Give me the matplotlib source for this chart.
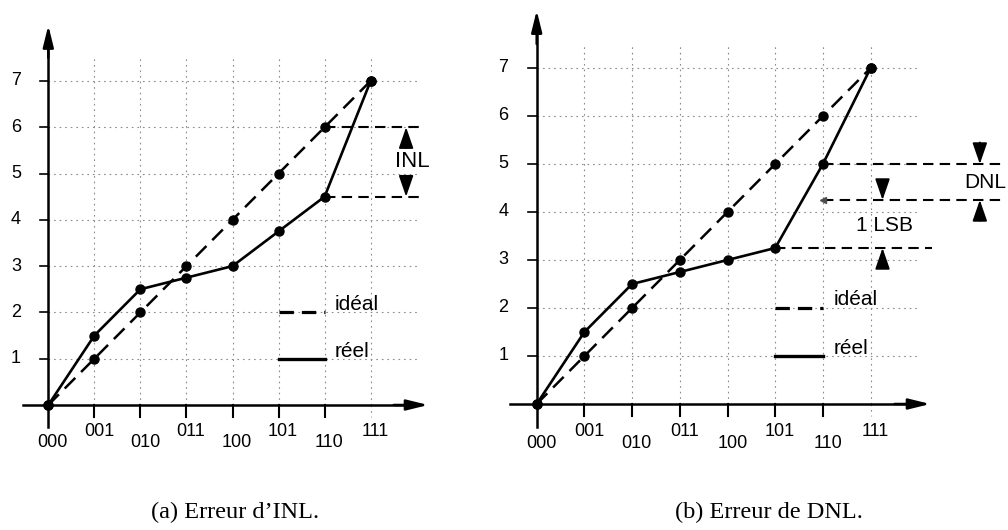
import matplotlib
matplotlib.use("Agg")
import matplotlib.pyplot as plt

# ---- data ----
codes = ['000', '001', '010', '011', '100', '101', '110', '111']
ideal = [0, 1, 2, 3, 4, 5, 6, 7]
reel_inl = [0, 1.5, 2.5, 2.75, 3.0, 3.75, 4.5, 7]
reel_dnl = [0, 1.5, 2.5, 2.75, 3.0, 3.25, 5.0, 7]
yticks = [1, 2, 3, 4, 5, 6, 7]
captions = ["(a) Erreur d\u2019INL.", "(b) Erreur de DNL."]
legend_labels = ["idéal", "réel"]

W, H = 1008, 530
fig = plt.figure(figsize=(W / 100, H / 100), dpi=100)

SANS = ['Liberation Sans', 'DejaVu Sans']
SERIF = ['Liberation Serif', 'DejaVu Serif']


def make_axes(x0, sx, y0, sy, xlim, ylim):
    left = x0 + xlim[0] * sx
    right = x0 + xlim[1] * sx
    bottom = y0 - ylim[0] * sy
    top = y0 - ylim[1] * sy
    ax = fig.add_axes([left / W, (H - bottom) / H, (right - left) / W, (bottom - top) / H])
    ax.set_xlim(*xlim)
    ax.set_ylim(*ylim)
    ax.axis('off')
    return ax


def arrow(ax, x, y_from, y_to, lw=1.3, hl=1.3, hw=0.45):
    ax.annotate('', xy=(x, y_to), xytext=(x, y_from),
                arrowprops=dict(arrowstyle=f'-|>,head_length={hl},head_width={hw}',
                                lw=lw, color='black', shrinkA=0, shrinkB=0,
                                mutation_scale=10),
                annotation_clip=False)


def draw_panel(ax, reel, xgrid_end, ygrid_end):
    n = len(codes)
    xs = list(range(n))
    gkw = dict(color='0.55', lw=0.8, ls=(0, (1.5, 3.5)), clip_on=False, zorder=1)
    # grid
    for y in yticks:
        ax.plot([0, xgrid_end], [y, y], **gkw)
    for x in xs[1:]:
        ax.plot([x, x], [0, ygrid_end], **gkw)
    ax.plot([xs[-1], xs[-1]], [0, -0.25], **gkw)
    # axes with arrows
    ax.plot([-0.55, 8.0], [0, 0], color='black', lw=1.8, clip_on=False, zorder=3)
    ax.annotate('', xy=(8.25, 0), xytext=(7.5, 0),
                arrowprops=dict(arrowstyle='-|>,head_length=1.3,head_width=0.32',
                                lw=1.8, color='black', shrinkA=0, shrinkB=0,
                                mutation_scale=10), annotation_clip=False)
    ax.plot([0, 0], [-0.47, 7.9], color='black', lw=1.8, clip_on=False, zorder=3)
    ax.annotate('', xy=(0, 8.2), xytext=(0, 7.5),
                arrowprops=dict(arrowstyle='-|>,head_length=1.3,head_width=0.32',
                                lw=1.8, color='black', shrinkA=0, shrinkB=0,
                                mutation_scale=10), annotation_clip=False)
    # ticks
    for y in yticks:
        ax.plot([-0.18, 0], [y, y], color='black', lw=1.2, clip_on=False)
        ax.text(-0.7, y, str(y), ha='center', va='center', fontsize=13, family=SANS)
    for x in xs[1:-1]:
        ax.plot([x, x], [0, -0.25], color='black', lw=1.5, clip_on=False)
    for i, c in enumerate(codes):
        yl = -0.82 if i % 2 == 0 else -0.58
        ax.text(xs[i] + 0.1, yl, c, ha='center', va='center', fontsize=13, family=SANS)
    # series
    ax.plot(xs, ideal, color='black', lw=1.8, ls=(0, (6, 3.3)), marker='o', ms=6.5,
            clip_on=False, zorder=4)
    ax.plot(xs, reel, color='black', lw=1.9, marker='o', ms=6.5, clip_on=False, zorder=5)
    # legend
    ax.plot([5, 6], [2, 2], color='black', lw=2.3, ls=(0, (4.5, 2.5)), clip_on=False, zorder=4)
    ax.plot([5, 6], [1, 1], color='black', lw=2.4, clip_on=False, zorder=4)
    ax.text(6.22, 2.17, legend_labels[0], ha='left', va='center', fontsize=15, family=SANS)
    ax.text(6.22, 1.15, legend_labels[1], ha='left', va='center', fontsize=15, family=SANS)


dkw = dict(color='black', lw=1.5, ls=(0, (5, 3)), clip_on=False, zorder=3)

# ---- panel (a) ----
axa = make_axes(48.3, 46.05, 405, 46.3, (-1, 8.5), (-1.5, 8.6))
draw_panel(axa, reel_inl, 8.0, 7.5)
axa.plot([6, 8.14], [ideal[6], ideal[6]], **dkw)
axa.plot([6, 8.14], [reel_inl[6], reel_inl[6]], **dkw)
arrow(axa, 7.77, 5.55, ideal[6])
arrow(axa, 7.77, 4.95, reel_inl[6])
axa.text(7.9, 5.25, "INL", ha='center', va='center', fontsize=16, family=SANS)

# ---- panel (b) ----
axb = make_axes(536.7, 47.7, 404, 48, (-1, 9.9), (-1.5, 8.4))
draw_panel(axb, reel_dnl, 7.97, 7.5)
lsb_top = reel_dnl[6] - 0.75
axb.plot([6, 9.8], [reel_dnl[6], reel_dnl[6]], **dkw)
axb.plot([6, 9.8], [lsb_top, lsb_top], **dkw)
axb.plot([5, 8.28], [reel_dnl[5], reel_dnl[5]], **dkw)
axb.plot([6], [lsb_top], marker='<', color='0.3', ms=4, clip_on=False, zorder=4)
arrow(axb, 9.29, 5.45, reel_dnl[6])
arrow(axb, 9.29, 3.82, lsb_top)
arrow(axb, 7.25, 4.65, lsb_top)
arrow(axb, 7.25, 2.84, reel_dnl[5])
axb.text(9.4, 4.61, "DNL", ha='center', va='center', fontsize=15, family=SANS)
axb.text(7.3, 3.71, "1 LSB", ha='center', va='center', fontsize=15, family=SANS)

# ---- captions ----
fig.text(235 / W, 1 - 512 / H, captions[0], ha='center', va='center', fontsize=17.5, family=SERIF)
fig.text(769 / W, 1 - 512 / H, captions[1], ha='center', va='center', fontsize=17.5, family=SERIF)

fig.savefig('out.png', dpi=100)
